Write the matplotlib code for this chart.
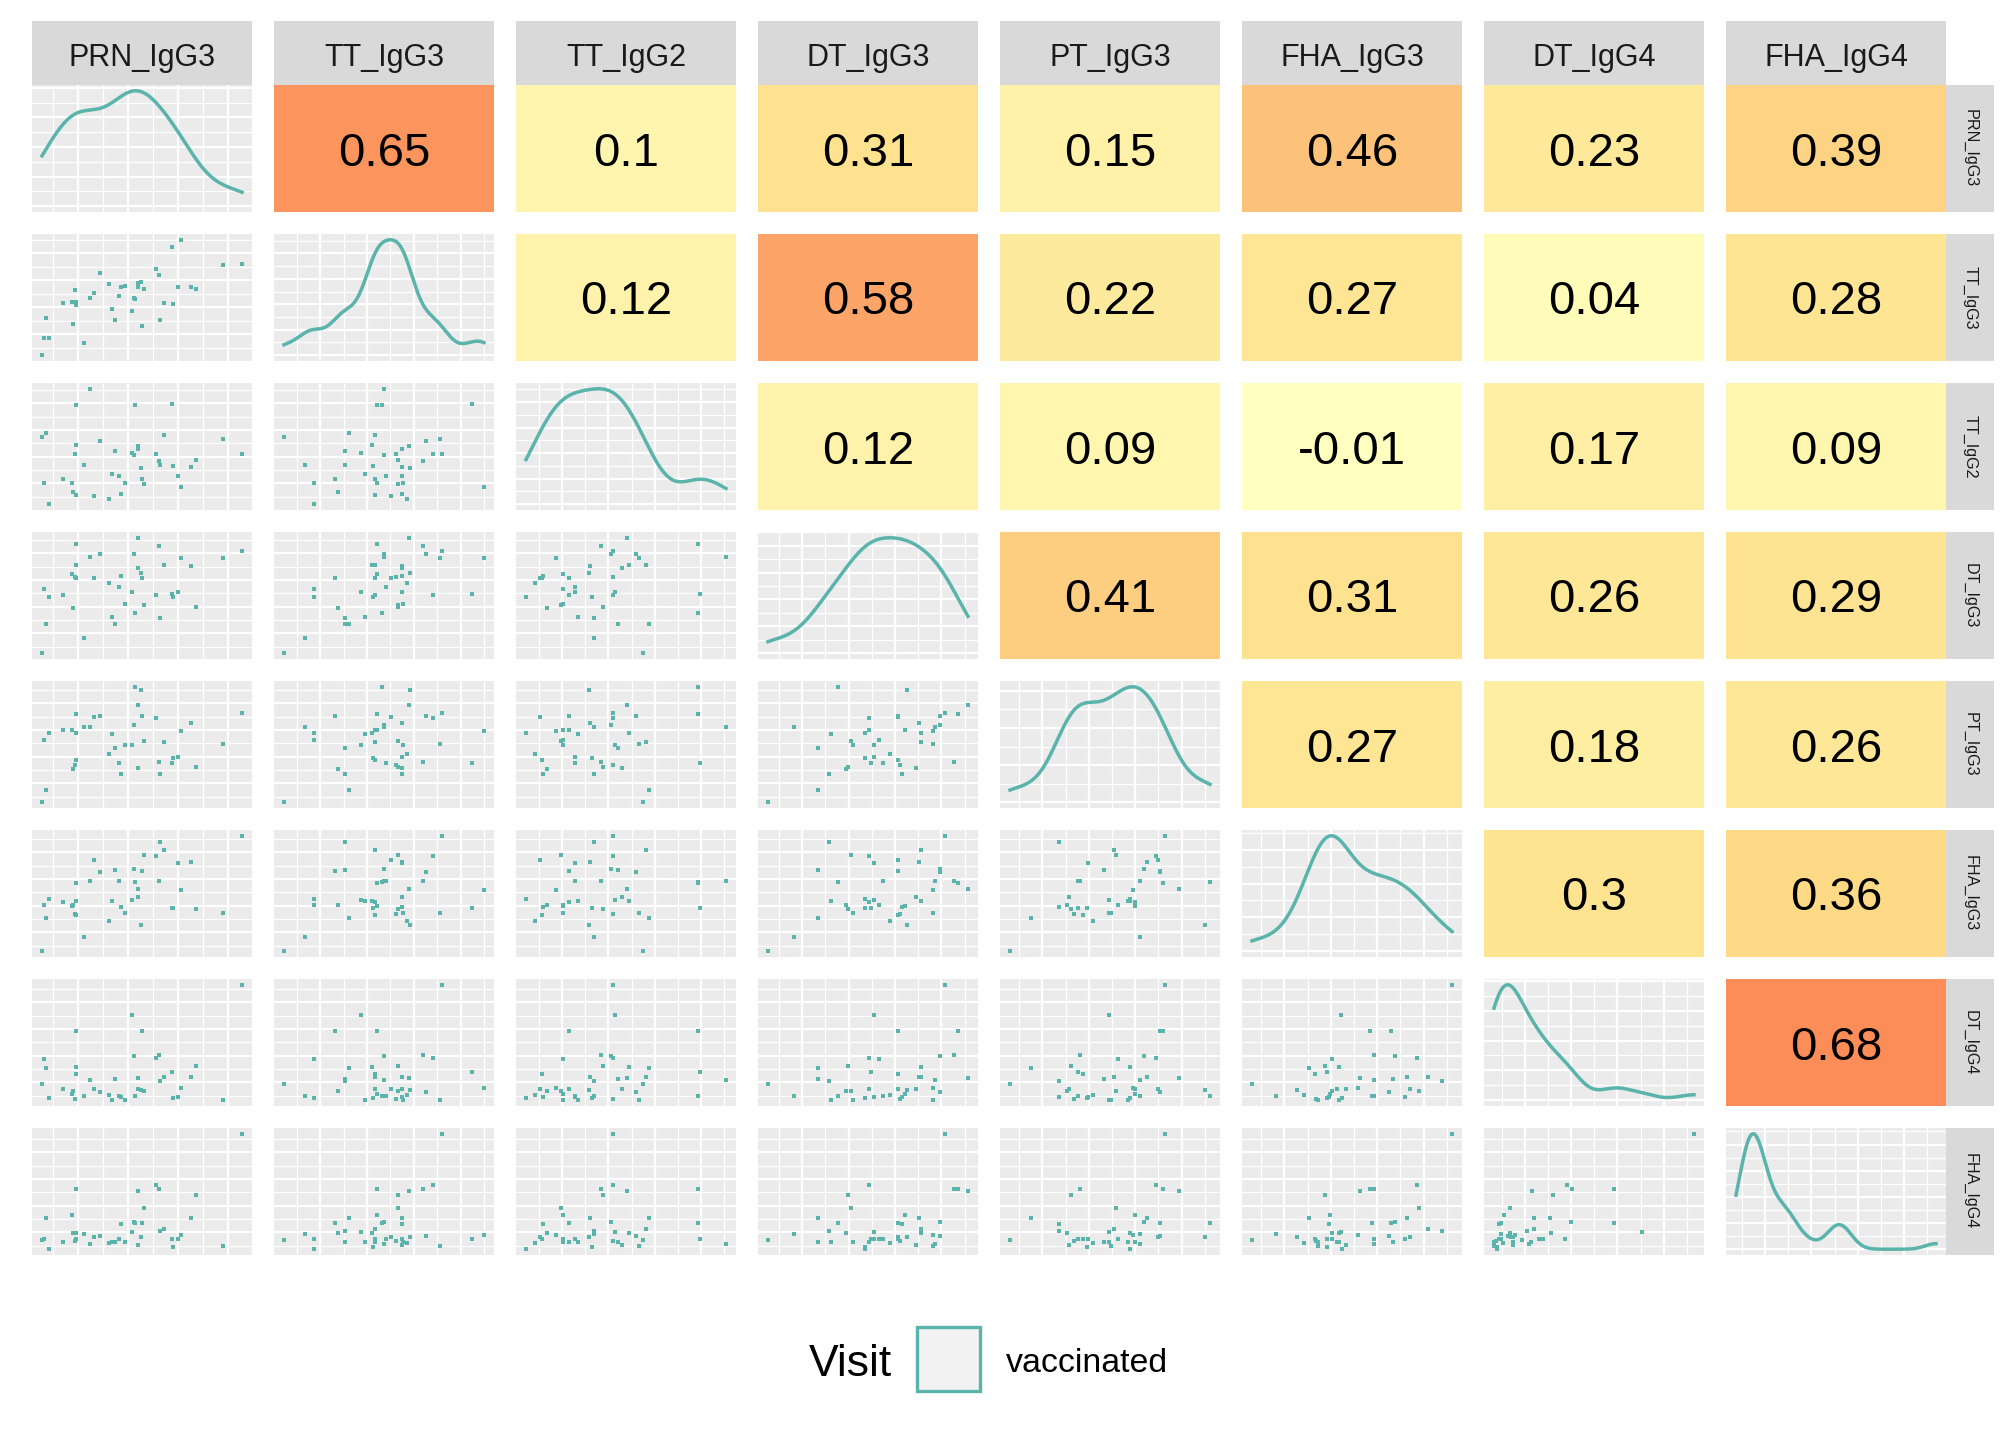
import numpy as np
import matplotlib
matplotlib.use('Agg')
import matplotlib.pyplot as plt
from matplotlib.colors import LinearSegmentedColormap, Normalize
from matplotlib.patches import Rectangle
from matplotlib.ticker import MaxNLocator, AutoMinorLocator

plt.rcParams['font.family'] = ['Liberation Sans', 'DejaVu Sans']

# ---------------- data ----------------
variables = ['PRN_IgG3', 'TT_IgG3', 'TT_IgG2', 'DT_IgG3',
             'PT_IgG3', 'FHA_IgG3', 'DT_IgG4', 'FHA_IgG4']

prn_igg3 = [0.41, 0.47, 0.53, 0.62, 1.04, 1.31, 1.34, 1.40, 1.43, 1.43, 1.44,
            1.67, 1.85, 1.97, 2.15, 2.42, 2.51, 2.60, 2.72, 2.79, 2.91,
            3.11, 3.18, 3.21, 3.30, 3.30, 3.39, 3.41, 3.47, 3.83, 3.92,
            3.95, 4.07, 4.31, 4.34, 4.49, 4.58, 4.88, 5.03, 5.84, 6.41]
tt_igg3 = [0.18, 0.69, 1.29, 0.69, 1.74, 1.77, 1.11, 2.10, 1.77, 1.68, 1.74,
           0.54, 1.89, 2.01, 2.61, 2.28, 1.56, 1.23, 1.92, 2.19, 2.22,
           1.50, 1.89, 1.86, 2.31, 2.19, 2.34, 1.05, 2.13, 2.73, 2.55,
           1.23, 1.74, 3.39, 1.71, 2.19, 3.60, 2.19, 2.13, 2.85, 2.88]
tt_igg2 = [2.19, 0.81, 2.31, 0.18, 0.93, 0.81, 0.54, 1.68, 3.15, 1.95, 0.45,
           1.35, 3.63, 0.42, 2.07, 0.33, 1.08, 1.77, 1.02, 0.48, 0.81,
           1.71, 1.65, 3.15, 1.92, 1.83, 1.26, 0.93, 0.78, 1.68, 1.47,
           1.35, 2.25, 3.18, 1.32, 1.02, 0.69, 1.29, 1.50, 2.13, 1.68]
dt_igg3 = [0.21, 2.13, 1.08, 1.89, 1.95, 2.58, 1.56, 2.49, 3.48, 2.85, 2.46,
           0.66, 3.09, 2.46, 3.18, 2.31, 1.29, 1.08, 2.19, 2.52, 1.68,
           2.04, 3.18, 1.41, 3.66, 2.76, 2.61, 2.46, 1.65, 1.95, 3.42,
           1.26, 2.85, 1.98, 1.89, 2.04, 3.06, 2.82, 1.59, 3.06, 3.27]
pt_igg3 = [0.24, 2.10, 0.60, 2.31, 2.40, 2.40, 1.23, 1.35, 2.88, 2.31, 1.50,
           2.49, 2.49, 2.79, 2.82, 1.68, 2.28, 1.86, 1.41, 1.08, 1.95,
           1.95, 2.55, 3.69, 3.15, 1.26, 3.60, 2.82, 2.07, 2.76, 1.44,
           1.08, 2.04, 1.41, 1.56, 1.59, 2.37, 2.61, 1.29, 1.98, 2.91]
fha_igg3 = [0.24, 1.62, 1.23, 1.80, 1.71, 1.59, 1.62, 1.35, 2.28, 1.74, 1.32,
            0.66, 2.34, 2.97, 2.61, 1.14, 1.74, 2.67, 2.34, 1.56, 1.38,
            1.77, 2.70, 2.31, 2.10, 1.86, 1.02, 2.64, 3.12, 3.09, 2.34,
            3.51, 3.27, 1.53, 1.53, 2.88, 2.07, 2.91, 1.50, 1.38, 3.69]
dt_igg4 = [0.75, 1.50, 1.23, 0.33, 0.60, 0.45, 0.54, 0.30, 2.34, 1.26, 1.05,
           0.39, 0.87, 0.60, 0.51, 0.42, 0.27, 0.90, 0.39, 0.36, 0.27,
           2.82, 1.59, 0.39, 0.93, 0.60, 0.57, 2.34, 0.54, 1.53, 1.62,
           0.84, 0.96, 1.11, 0.33, 0.36, 0.63, 0.96, 1.29, 0.27, 3.72]
fha_igg4 = [0.57, 0.60, 1.23, 0.30, 0.51, 1.32, 0.78, 0.54, 2.10, 0.78, 0.60,
            0.75, 0.45, 0.66, 0.69, 0.48, 0.51, 0.51, 0.60, 1.05, 0.51,
            0.81, 1.11, 1.08, 2.04, 0.42, 0.66, 1.08, 1.53, 2.22, 2.10,
            0.84, 0.90, 0.60, 0.36, 0.60, 0.72, 1.23, 1.92, 0.39, 3.75]

# correlation labels, upper triangle, row by row
corr_rows = [
    [0.65, 0.1, 0.31, 0.15, 0.46, 0.23, 0.39],
    [0.12, 0.58, 0.22, 0.27, 0.04, 0.28],
    [0.12, 0.09, -0.01, 0.17, 0.09],
    [0.41, 0.31, 0.26, 0.29],
    [0.27, 0.18, 0.26],
    [0.3, 0.36],
    [0.68],
]

legend_title = 'Visit'
legend_label = 'vaccinated'

# ---------------- styling ----------------
W, H = 2016, 1440
DPI = 200
TEAL = '#5AB4AC'
PANEL_BG = '#EBEBEB'
STRIP_BG = '#D9D9D9'
TXT = '#1A1A1A'
cmap = LinearSegmentedColormap.from_list('corr', ['#FFFFBF', '#FEE08B', '#FC8D59'])

data = [np.array(v, dtype=float) for v in
        [prn_igg3, tt_igg3, tt_igg2, dt_igg3, pt_igg3, fha_igg3, dt_igg4, fha_igg4]]
nvar = len(variables)

all_corr = [c for row in corr_rows for c in row]
norm = Normalize(vmin=min(all_corr), vmax=max(all_corr))

PW, PH = 220, 127
def col_left(i):
    return 32 + 242 * i
def row_top(j):
    return 85 + 149 * j
def rect(left, top, w, h):
    return [left / W, 1 - (top + h) / H, w / W, h / H]

def expand(v):
    lo, hi = float(np.min(v)), float(np.max(v))
    pad = (hi - lo) * 0.05
    return lo - pad, hi + pad

def nrd0(x):
    sd = np.std(x, ddof=1)
    q75, q25 = np.percentile(x, [75, 25])
    lo = min(sd, (q75 - q25) / 1.34)
    return 0.9 * lo * len(x) ** -0.2

def kde(x, grid):
    bw = nrd0(x)
    z = (grid[:, None] - x[None, :]) / bw
    return np.exp(-0.5 * z ** 2).sum(axis=1) / (len(x) * bw * np.sqrt(2 * np.pi))

def style_grid(ax):
    ax.set_facecolor(PANEL_BG)
    for s in ax.spines.values():
        s.set_visible(False)
    for axis in (ax.xaxis, ax.yaxis):
        axis.set_major_locator(MaxNLocator(nbins=5))
        axis.set_minor_locator(AutoMinorLocator(2))
    ax.grid(which='major', color='white', lw=0.8)
    ax.grid(which='minor', color='white', lw=0.45)
    ax.tick_params(which='both', length=0, labelbottom=False, labelleft=False)
    ax.set_axisbelow(True)

fig = plt.figure(figsize=(W / DPI, H / DPI), dpi=DPI)

for j in range(nvar):          # row
    for i in range(nvar):      # column
        ax = fig.add_axes(rect(col_left(i), row_top(j), PW, PH))
        if i > j:
            r = corr_rows[j][i - j - 1]
            ax.set_facecolor(cmap(norm(r)))
            for s in ax.spines.values():
                s.set_visible(False)
            ax.set_xticks([]); ax.set_yticks([])
            ax.text(0.5, 0.5, '{:g}'.format(r), transform=ax.transAxes,
                    ha='center', va='center_baseline', fontsize=17, color='black')
        elif i == j:
            x = data[i]
            g = np.linspace(x.min(), x.max(), 512)
            d = kde(x, g)
            ax.plot(g, d, color=TEAL, lw=1.25)
            ax.set_xlim(*expand(x))
            ax.set_ylim(-0.05 * d.max(), 1.05 * d.max())
            style_grid(ax)
        else:
            ax.scatter(data[i], data[j], s=2.3, marker='s', color=TEAL,
                       linewidths=0)
            ax.set_xlim(*expand(data[i]))
            ax.set_ylim(*expand(data[j]))
            style_grid(ax)

# top strips
for i, name in enumerate(variables):
    sax = fig.add_axes(rect(col_left(i), 21, PW, 64))
    sax.set_facecolor(STRIP_BG)
    for s in sax.spines.values():
        s.set_visible(False)
    sax.set_xticks([]); sax.set_yticks([])
    sax.text(0.5, 0.48, name, transform=sax.transAxes, ha='center', va='center_baseline',
             fontsize=11, color=TXT)

# right strips
for j, name in enumerate(variables):
    sax = fig.add_axes(rect(1946, row_top(j), 48, PH))
    sax.set_facecolor(STRIP_BG)
    for s in sax.spines.values():
        s.set_visible(False)
    sax.set_xticks([]); sax.set_yticks([])
    sax.text(0.5, 0.5, name, transform=sax.transAxes, ha='center', va='center',
             rotation=-90, fontsize=5.8, color=TXT)

# legend
fig.text(809 / W, 1 - 1376 / H, legend_title, ha='left', va='baseline',
         fontsize=16, color='black')
fig.add_artist(Rectangle((917 / W, 1 - 1391 / H), 63 / W, 64 / H,
                         transform=fig.transFigure, facecolor='#F2F2F2',
                         edgecolor=TEAL, lw=1.2))
fig.text(1006 / W, 1 - 1372 / H, legend_label, ha='left', va='baseline',
         fontsize=12.2, color='black')

fig.savefig('out.png', dpi=DPI, facecolor='white')
